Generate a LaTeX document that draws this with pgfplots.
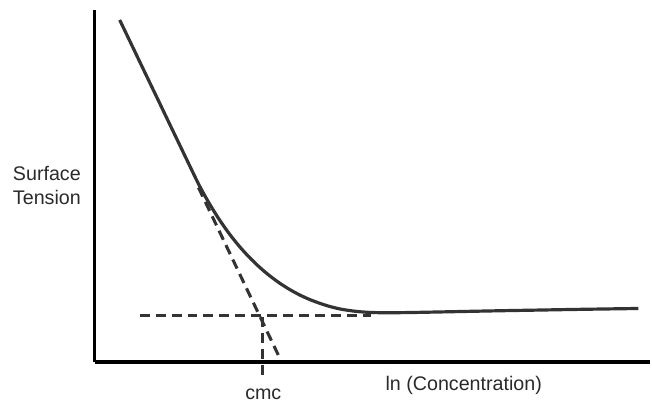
\documentclass[border=0pt]{standalone}
\usepackage{fontspec}
\setmainfont{Liberation Sans}
\usepackage{pgfplots}
\pgfplotsset{compat=1.18}
\definecolor{curve}{HTML}{333333}
\definecolor{txt}{HTML}{2A2A2A}

\begin{document}
\begin{tikzpicture}
% coordinates are in reference pixels, y counted downwards (negated)
\begin{axis}[
    scale only axis,
    width=417.75pt, height=264.75pt,
    xmin=95, xmax=652, ymin=-363, ymax=-10,
    axis lines=left,
    axis line style={-, line width=2.6pt, black},
    xtick=\empty, ytick=\empty,
    clip=false,
]
% main curve
\addplot[curve, line width=2.4pt, smooth, tension=0.5] coordinates {
    (120,-20) (130,-40.8) (140,-61.7) (150,-82.5) (160,-103.3) (170,-124.2)
    (180,-145) (190,-165.8) (200,-186.3) (210,-204.3) (220,-220.3)
    (230,-234.5) (240,-247) (250,-258) (260,-267.7) (270,-276.2)
    (280,-283.6) (290,-290) (300,-295.5) (310,-300.1) (320,-303.9)
    (330,-307.1) (340,-309.6) (350,-311.3) (360,-312.5) (370,-313.2)
    (380,-313.5) (400,-313.5) (420,-313.2) (460,-312.4) (500,-311.6)
    (540,-310.9) (580,-310.2) (620,-309.6) (640,-309.3)
};
% tangent of steep part
\addplot[curve, line width=2.3pt, dash pattern=on 7.5pt off 4.5pt] coordinates {
    (199,-188) (280,-358)
};
% plateau level
\addplot[curve, line width=2.3pt, dash pattern=on 7.5pt off 4.5pt] coordinates {
    (140,-316) (372,-316)
};
% cmc marker
\addplot[curve, line width=2.3pt, dash pattern=on 7.5pt off 4.5pt] coordinates {
    (263,-318) (263,-382)
};
\path (axis cs:0,0) rectangle (axis cs:652,-407);
\node[txt, font=\fontsize{14.8}{18}\selectfont, align=center] at (axis cs:47,-186) {Surface\\Tension};
\node[txt, font=\fontsize{14.8}{17}\selectfont] at (axis cs:264,-395) {cmc};
\node[txt, font=\fontsize{14.8}{17}\selectfont] at (axis cs:465,-386) {ln (Concentration)};
\end{axis}
\end{tikzpicture}
\end{document}
